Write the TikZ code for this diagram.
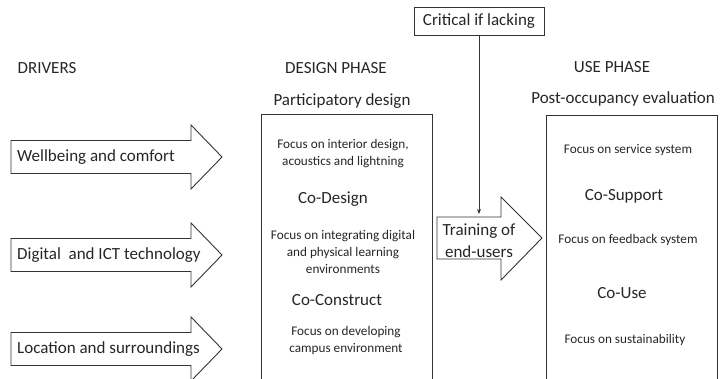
\documentclass[tikz,border=0pt]{standalone}
\usepackage{fontspec}
\setmainfont{Carlito}
\usetikzlibrary{arrows.meta}

\tikzset{
  big/.style={font=\fontsize{17}{22}\selectfont, text=black!85, inner sep=0pt},
  small/.style={font=\fontsize{13.2}{17}\selectfont, text=black!85, align=center, inner sep=0pt},
  ln/.style={draw=black!80, line width=0.9pt},
}

\begin{document}
\begin{tikzpicture}[line join=miter, >=Stealth, x=1pt, y=-1pt]
\def \hb{16.5};
\def \hh{32};
\useasboundingbox (0,0) rectangle (723,379);
\clip (0,0) rectangle (723,379);
% headings
\node[big] (drv) at (47,68) {DRIVERS};
\node[big] (dph) at (336,68) {DESIGN PHASE};
\node[big] (pdes) at (342,101) {Participatory design};
\node[big] (uph) at (612,67) {USE PHASE};
\node[big] (poe) at (623,99) {Post-occupancy evaluation};
% drivers
\foreach \y/\t/\n in {157/{Wellbeing and comfort}/well, 255/{Digital\ \ and ICT technology}/ict, 349/{Location and surroundings}/loc}{
  \draw[ln] (11,\y-\hb) -- (191,\y-\hb) -- (191,\y-\hh) -- (222,\y) -- (191,\y+\hh) -- (191,\y+\hb) -- (11,\y+\hb) -- cycle;
  \node[big,anchor=west] (\n) at (17,\y) {\t};
}
% design phase box
\draw[ln] (261,114) rectangle (432,395);
\node[small] (fint) at (343,153.5) {Focus on interior design,\\acoustics and lightning};
\node[big] (codes) at (333,199) {Co-Design};
\node[small] (fdig) at (343,252) {Focus on integrating digital\\and physical learning\\environments};
\node[big] (cocon) at (337,300) {Co-Construct};
\node[small] (fcamp) at (346,340) {Focus on developing\\campus environment};
% use phase box
\draw[ln] (546,115) rectangle (717,395);
\node[small] (fserv) at (628,150) {Focus on service system};
\node[big] (cosup) at (624,196) {Co-Support};
\node[small] (ffeed) at (628,240) {Focus on feedback system};
\node[big] (couse) at (622,293) {Co-Use};
\node[small] (fsust) at (625,340) {Focus on sustainability};
% training
\draw[ln] (437,217) -- (501,217) -- (501,197) -- (542,238) -- (501,280) -- (501,259) -- (437,259) -- cycle;
\node[big,align=center] (train) at (479,241) {Training of\\end-users};
\coordinate (trtop) at (479,214);
\node[big,ln,minimum width=130,minimum height=28,anchor=north] (crit) at (479,7) {Critical if lacking};
\draw[ln,-{Stealth[length=5pt,width=4pt]}] (crit) -- (trtop);
\end{tikzpicture}
\end{document}
